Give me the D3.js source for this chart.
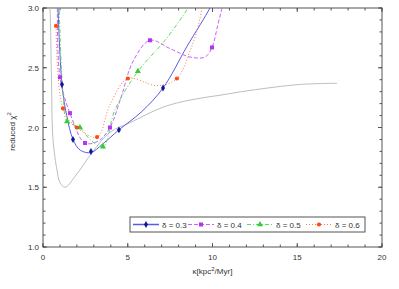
<!DOCTYPE html>
<html>
<head>
<meta charset="utf-8">
<script src="https://cdn.jsdelivr.net/npm/d3@7"></script>
<style>
body { margin: 0; background: #fff; }
svg { font-family: "Liberation Sans", Arial, sans-serif; }
</style>
</head>
<body>
<div id="chart"></div>
<script>
// curves: [kappa, reduced chi2]
var grayCurve = [[0.3,3.2],[0.41,3.0],[0.5,2.4],[0.59,1.9],[0.83,1.64],[1.0,1.54],[1.3,1.5],[1.89,1.59],[2.95,1.8],[3.95,1.96],[5.13,2.04],[7.08,2.17],[8.67,2.23],[10.44,2.27],[12.2,2.31],[15.16,2.36],[17.35,2.37]];

var d03Curve = [[0.86,3.1],[1.12,2.36],[1.4,2.1],[1.77,1.9],[2.2,1.81],[2.83,1.79],[3.5,1.86],[4.48,1.98],[5.8,2.13],[7.08,2.33],[8.5,2.68],[9.85,3.0],[10.0,3.05]];
var d03Marks = [[1.12,2.36],[1.77,1.9],[2.83,1.8],[4.48,1.98],[7.08,2.33]];

var d04Curve = [[0.85,3.05],[1.0,2.42],[1.59,2.12],[2.48,1.87],[3.3,1.89],[3.95,2.0],[4.6,2.25],[5.3,2.55],[6.31,2.73],[7.5,2.66],[8.67,2.59],[9.56,2.59],[9.97,2.67],[10.3,2.85],[10.56,3.0],[10.65,3.05]];
var d04Marks = [[1.0,2.42],[1.59,2.12],[2.48,1.87],[3.95,2.0],[6.31,2.73],[9.97,2.67]];

var d05Curve = [[0.95,3.05],[1.05,2.6],[1.2,2.25],[1.42,2.05],[2.18,2.0],[2.77,1.9],[3.54,1.84],[4.25,2.15],[5.6,2.47],[7.2,2.73],[8.55,3.0],[8.7,3.05]];
var d05Marks = [[1.42,2.05],[2.18,2.0],[3.54,1.84],[5.6,2.47]];

var d06Curve = [[0.77,2.85],[1.18,2.16],[2.0,2.0],[3.19,1.92],[3.95,2.19],[5.01,2.41],[6.73,2.35],[7.9,2.41],[8.7,2.65],[9.14,2.84],[9.38,3.0],[9.45,3.05]];
var d06Marks = [[0.77,2.85],[1.18,2.16],[2.0,2.0],[3.19,1.92],[5.01,2.41],[7.9,2.41]];

var seriesNames = ["\u03b4 = 0.3", "\u03b4 = 0.4", "\u03b4 = 0.5", "\u03b4 = 0.6"];
var xTicks = [0, 5, 10, 15, 20];
var yTicks = [1.0, 1.5, 2.0, 2.5, 3.0];

var W = 399, H = 289;
var margin = {top: 8, right: 17, bottom: 42, left: 43};
var width = W - margin.left - margin.right;
var height = H - margin.top - margin.bottom;

var svg = d3.select("#chart").append("svg")
    .attr("width", W)
    .attr("height", H);

var g = svg.append("g")
    .attr("transform", "translate(" + margin.left + "," + margin.top + ")");

var x = d3.scaleLinear().domain([0, 20]).range([0, width]);
var y = d3.scaleLinear().domain([1, 3]).range([height, 0]);

var axisCol = "#555";

// inward ticks on all four sides
var minorX = d3.range(0, 21, 1), minorY = d3.range(1, 3.001, 0.1);
function tickLines(sel, vals, scale, horiz, pos, dir, len) {
    sel.selectAll(null).data(vals).enter().append("line")
        .attr("x1", function(d) { return horiz ? scale(d) : pos; })
        .attr("x2", function(d) { return horiz ? scale(d) : pos + dir * len; })
        .attr("y1", function(d) { return horiz ? pos : scale(d); })
        .attr("y2", function(d) { return horiz ? pos + dir * len : scale(d); })
        .attr("stroke", axisCol).attr("stroke-width", 1);
}
var tg = g.append("g");
tickLines(tg, minorX, x, true, height, -1, 2.5);
tickLines(tg, minorX, x, true, 0, 1, 2.5);
tickLines(tg, minorY, y, false, 0, 1, 2.5);
tickLines(tg, minorY, y, false, width, -1, 2.5);
tickLines(tg, xTicks, x, true, height, -1, 4);
tickLines(tg, xTicks, x, true, 0, 1, 4);
tickLines(tg, yTicks, y, false, 0, 1, 4);
tickLines(tg, yTicks, y, false, width, -1, 4);

g.append("rect")
    .attr("width", width).attr("height", height)
    .attr("fill", "none").attr("stroke", axisCol).attr("stroke-width", 1);

g.selectAll(".xl").data(xTicks).enter().append("text")
    .attr("x", function(d) { return x(d); })
    .attr("y", height + 13)
    .attr("text-anchor", "middle")
    .attr("font-size", 8).attr("fill", "#333")
    .text(function(d) { return d; });

g.selectAll(".yl").data(yTicks).enter().append("text")
    .attr("x", -4)
    .attr("y", function(d) { return y(d) + 3; })
    .attr("text-anchor", "end")
    .attr("font-size", 8).attr("fill", "#333")
    .text(function(d) { return d.toFixed(1); });

// axis titles
var xt = svg.append("text")
    .attr("x", margin.left + width / 2)
    .attr("y", 274)
    .attr("text-anchor", "middle")
    .attr("font-size", 8).attr("fill", "#333");
xt.append("tspan").text("\u03ba[kpc");
xt.append("tspan").attr("font-size", 6).attr("dy", -3).text("2");
xt.append("tspan").attr("dy", 3).text("/Myr]");

var yt = svg.append("text")
    .attr("transform", "translate(15," + (margin.top + height / 2 + 4) + ") rotate(-90)")
    .attr("text-anchor", "middle")
    .attr("font-size", 8).attr("fill", "#333");
yt.append("tspan").text("reduced \u03c7");
yt.append("tspan").attr("font-size", 6).attr("dy", -4).text("2");

// data
svg.append("clipPath").attr("id", "clip")
    .append("rect").attr("width", width).attr("height", height);

var plot = g.append("g").attr("clip-path", "url(#clip)");

var line = d3.line()
    .x(function(d) { return x(d[0]); })
    .y(function(d) { return y(d[1]); })
    .curve(d3.curveCatmullRom.alpha(0.5));

var series = [
    {curve: d03Curve, marks: d03Marks, line: "#5a5ae6", mark: "#10189a", dash: null, sym: d3.symbolDiamond, size: 14},
    {curve: d04Curve, marks: d04Marks, line: "#c466f5", mark: "#b534f0", dash: "4,2", sym: d3.symbolSquare, size: 16},
    {curve: d05Curve, marks: d05Marks, line: "#5fd85f", mark: "#33cc33", dash: "4,2,1,2", sym: d3.symbolTriangle, size: 16},
    {curve: d06Curve, marks: d06Marks, line: "#ff7a50", mark: "#ff4a14", dash: "1,2", sym: d3.symbolCircle, size: 14}
];

plot.append("path")
    .datum(grayCurve)
    .attr("d", line)
    .attr("fill", "none")
    .attr("stroke", "#b8c0c0")
    .attr("stroke-width", 1);

series.forEach(function(s) {
    plot.append("path")
        .datum(s.curve)
        .attr("d", line)
        .attr("fill", "none")
        .attr("stroke", s.line)
        .attr("stroke-width", 1)
        .attr("stroke-dasharray", s.dash);
});
series.forEach(function(s) {
    plot.selectAll(null).data(s.marks).enter().append("path")
        .attr("transform", function(d) { return "translate(" + x(d[0]) + "," + y(d[1]) + ")"; })
        .attr("d", d3.symbol().type(s.sym).size(s.size))
        .attr("fill", s.mark);
});

// legend
var lg = svg.append("g").attr("transform", "translate(130,217)");
lg.append("rect")
    .attr("width", 235).attr("height", 15)
    .attr("fill", "#fff").attr("stroke", "#555").attr("stroke-width", 1);

var itemX = [3, 58, 117, 176];
series.forEach(function(s, i) {
    var it = lg.append("g").attr("transform", "translate(" + itemX[i] + ",7.5)");
    it.append("line")
        .attr("x1", 0).attr("x2", 26)
        .attr("stroke", s.line).attr("stroke-width", i === 0 ? 1.5 : 1)
        .attr("stroke-dasharray", s.dash);
    it.append("path")
        .attr("transform", "translate(13,0)")
        .attr("d", d3.symbol().type(s.sym).size(s.size))
        .attr("fill", s.mark);
    it.append("text")
        .attr("x", 29).attr("y", 3)
        .attr("font-size", 8).attr("fill", "#333")
        .text(seriesNames[i]);
});
</script>
</body>
</html>
